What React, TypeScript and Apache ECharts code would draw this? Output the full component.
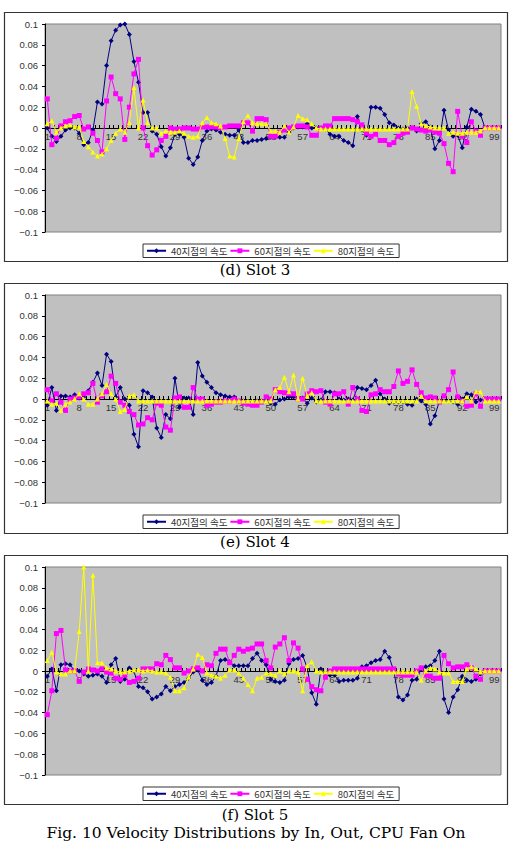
import { useEffect, useRef } from "react";
import * as echarts from "echarts";

// Measurement positions along the slot (1..100)
const categories: string[] = Array.from({ length: 100 }, (_, i) => String(i + 1));

const seriesNames = ["40지점의 속도", "60지점의 속도", "80지점의 속도"];
const captions = ["(d) Slot 3", "(e) Slot 4", "(f) Slot 5"];
const figureTitle = "Fig. 10 Velocity Distributions by In, Out, CPU Fan On";

const yTicks = { min: -0.1, max: 0.1, step: 0.02 };

// Slot 3
const slot3At40 = [
  0, -0.008, -0.013, -0.008, -0.002, 0, 0, -0.005, -0.016, -0.014,
  -0.002, 0.025, 0.023, 0.06, 0.084, 0.094, 0.099, 0.1, 0.09, 0.064,
  0.044, 0.015, 0.015, -0.003, -0.006, -0.018, -0.027, -0.019, -0.006, -0.006,
  -0.009, -0.029, -0.035, -0.028, -0.012, -0.003, -0.001, -0.002, -0.004, -0.006,
  -0.007, -0.007, -0.002, -0.014, -0.014, -0.012, -0.012, -0.011, -0.01, -0.009,
  -0.009, -0.009, -0.009, -0.004, 0, 0.001, 0.001, 0.004, 0, 0,
  0, -0.001, -0.006, -0.008, -0.008, -0.012, -0.014, -0.017, 0.011, -0.002,
  -0.007, 0.02, 0.02, 0.019, 0.013, 0.005, 0.003, 0, -0.001, 0,
  0, -0.003, 0.004, 0.006, 0.001, -0.02, -0.012, 0.017, -0.002, -0.008,
  -0.007, -0.019, 0.001, 0.018, 0.016, 0.013, 0, 0, 0, 0,
];
const slot3At60 = [
  0.028, -0.016, -0.01, 0.002, 0.006, 0.007, 0.011, 0.012, -0.001, 0.001,
  -0.005, -0.012, -0.023, 0.026, 0.049, 0.033, 0.028, -0.011, 0.02, 0.052,
  0.066, 0, -0.017, -0.026, -0.021, -0.012, -0.008, 0, -0.001, -0.001,
  0, 0, -0.001, -0.001, 0.001, 0.001, 0.001, 0.001, 0, 0.001,
  0.002, 0.002, 0.002, 0.005, 0.005, -0.003, 0.009, 0.009, 0.008, -0.008,
  -0.008, -0.004, -0.002, 0, 0.001, 0.002, 0.002, 0.001, -0.007, -0.007,
  0, 0.002, 0.002, 0.009, 0.009, 0.009, 0.009, 0.008, 0.006, 0.003,
  -0.005, -0.008, -0.006, -0.012, -0.012, -0.016, -0.014, -0.008, -0.005, -0.004,
  0, -0.001, -0.002, -0.003, -0.002, -0.004, -0.005, -0.015, -0.034, -0.042,
  0.016, -0.008, -0.014, 0.006, -0.003, -0.007, 0, 0, 0, 0,
];
const slot3At80 = [
  0.004, 0.007, -0.004, 0, 0.002, 0.003, 0.001, 0.001, -0.013, -0.018,
  -0.023, -0.027, -0.025, -0.02, -0.012, -0.005, -0.001, -0.004, 0.005, 0.039,
  0, 0.027, 0.005, 0, 0, -0.005, -0.003, -0.004, -0.004, -0.003,
  -0.005, -0.008, -0.009, -0.008, 0.005, 0.01, 0.005, 0.004, 0.002, -0.01,
  -0.027, -0.028, -0.01, 0.006, 0.012, 0.005, 0.004, 0.004, 0.004, -0.003,
  -0.003, -0.004, 0.002, -0.004, 0.001, 0.012, 0.009, 0.008, 0.004, 0,
  -0.001, -0.001, -0.001, -0.001, -0.001, -0.001, -0.001, -0.001, -0.001, -0.001,
  -0.001, -0.001, -0.001, -0.001, -0.001, -0.001, -0.001, -0.001, -0.001, -0.001,
  0.035, 0.021, 0.004, 0.002, 0.001, 0, 0, 0, -0.005, -0.004,
  -0.005, -0.005, -0.004, -0.004, -0.004, -0.003, 0, 0, 0, 0,
];

// Slot 4
const slot4At40 = [
  -0.006, 0.011, -0.011, 0.003, 0.003, 0.002, 0.004, 0.001, 0.002, 0.008,
  0.016, 0.025, 0.013, 0.043, 0.036, 0.002, 0.011, 0, -0.006, -0.034,
  -0.046, 0.008, 0.006, 0.002, -0.028, -0.037, -0.015, -0.019, 0.02, -0.008,
  0.001, 0.001, -0.015, 0.035, 0.022, 0.016, 0.011, 0.006, 0.004, 0.003,
  0.002, 0.002, -0.002, -0.002, -0.003, -0.003, -0.002, -0.002, -0.002, -0.004,
  -0.005, -0.001, 0, 0.002, 0.002, 0.001, 0.001, -0.004, 0.001, -0.003,
  -0.001, 0.007, 0.007, 0.006, 0, -0.001, 0, -0.001, 0.011, 0.01,
  0.009, 0.013, 0.018, 0.005, 0, -0.004, -0.003, -0.003, -0.003, -0.005,
  -0.006, 0, -0.002, -0.005, -0.024, -0.016, -0.002, -0.002, -0.002, -0.003,
  -0.005, 0, 0.005, 0.004, -0.003, -0.001, 0, 0, 0, 0,
];
const slot4At60 = [
  0.009, -0.002, 0.005, -0.003, -0.011, 0, 0.001, 0.002, 0.005, 0.006,
  0.015, -0.003, 0.003, 0.007, 0.022, 0.015, -0.003, -0.006, -0.012, -0.015,
  -0.025, -0.024, -0.018, -0.02, -0.004, -0.006, -0.027, -0.03, 0.001, 0.002,
  -0.008, -0.008, 0.011, 0, 0, -0.006, -0.005, -0.003, -0.003, -0.002,
  -0.002, 0, -0.002, -0.004, -0.005, -0.006, -0.006, -0.003, 0.002, 0,
  0.009, 0.007, 0.006, 0.005, 0.005, 0, 0, 0.005, 0.008, 0.007,
  0.008, -0.003, -0.005, 0.005, 0.005, 0.007, -0.005, 0.011, 0, -0.011,
  -0.012, 0.004, 0.005, 0.009, 0.007, 0.007, 0.012, 0.027, 0.015, 0.017,
  0.028, 0.014, 0.006, 0.001, 0.002, 0.001, -0.003, 0.003, 0.009, 0.026,
  0.002, -0.002, -0.007, -0.006, 0.005, -0.007, 0, 0, 0, 0,
];
const slot4At80 = [
  -0.002, -0.005, -0.004, -0.011, -0.005, -0.003, 0, 0.005, 0, -0.005,
  -0.005, 0, 0.005, 0.014, 0.005, 0, -0.012, -0.01, 0.003, 0.004,
  -0.002, -0.002, -0.002, -0.002, -0.002, -0.002, -0.002, -0.002, -0.002, -0.002,
  -0.002, -0.002, -0.002, -0.002, -0.002, -0.002, -0.002, -0.002, -0.002, -0.002,
  -0.002, -0.002, -0.002, -0.002, -0.002, -0.002, -0.002, -0.002, -0.002, -0.002,
  0.009, 0.011, 0.021, 0.007, 0.023, 0, 0.02, 0.003, 0.006, -0.002,
  -0.002, -0.002, -0.002, -0.002, -0.002, -0.002, -0.002, -0.002, -0.002, -0.002,
  -0.002, -0.002, -0.002, -0.002, -0.002, -0.002, -0.002, -0.002, -0.002, -0.002,
  -0.002, -0.002, 0.003, -0.002, -0.002, -0.002, -0.002, -0.002, -0.002, -0.002,
  -0.002, -0.002, 0.002, -0.002, 0.007, 0.007, -0.002, -0.002, -0.002, -0.002,
];

// Slot 5
const slot5At40 = [
  -0.005, 0.002, -0.019, 0.006, 0.007, 0.006, 0, 0, -0.003, -0.005,
  -0.004, -0.003, -0.005, -0.011, 0.006, 0.012, -0.01, -0.008, 0.003, 0,
  -0.015, -0.016, -0.02, -0.027, -0.025, -0.022, -0.015, -0.019, -0.015, -0.013,
  -0.011, -0.007, -0.001, 0.001, -0.009, -0.013, -0.011, -0.005, 0.01, 0.011,
  0.009, 0.005, 0.005, 0.005, 0.005, 0.012, 0.017, 0.01, 0.006, -0.008,
  -0.01, -0.011, -0.009, 0.007, 0.011, 0.012, 0.015, 0.003, -0.021, -0.032,
  0.002, -0.004, -0.004, -0.004, -0.01, -0.009, -0.009, -0.009, -0.007, 0.004,
  0.005, 0.008, 0.01, 0.011, 0.019, 0.013, 0, -0.025, -0.028, -0.023,
  -0.009, -0.008, 0.002, 0.004, 0.005, 0.01, 0.019, -0.027, -0.04, -0.025,
  -0.018, -0.005, -0.009, -0.01, -0.008, -0.003, 0, 0, 0, 0,
];
const slot5At60 = [
  -0.042, -0.019, 0.036, 0.039, 0.001, 0, 0, -0.01, -0.001, 0.002,
  0.001, 0, 0.002, -0.001, -0.002, -0.007, -0.008, -0.004, -0.011, -0.01,
  -0.007, 0.002, 0.002, 0.002, 0.007, 0.006, 0.015, 0.011, 0.003, 0.003,
  -0.002, 0, 0.002, 0.003, 0, 0.006, 0.005, 0.017, 0.021, 0.021,
  0.008, 0.015, 0.021, 0.019, 0.021, 0.022, 0.026, 0.026, 0.01, 0.003,
  0.023, 0.026, 0.032, 0.01, 0.027, 0.022, 0.002, -0.008, -0.015, -0.018,
  -0.019, -0.006, 0, 0.002, 0.002, 0.002, 0.002, 0.002, 0.002, 0.002,
  0.002, 0.002, 0.002, 0.002, 0.002, 0.002, 0.002, -0.003, -0.004, -0.004,
  -0.004, 0, 0.003, -0.004, -0.005, -0.007, -0.007, 0.015, 0.007, 0.003,
  0.004, 0.004, 0.006, 0.003, -0.005, -0.008, 0, 0, 0, 0,
];
const slot5At80 = [
  0.01, 0.018, -0.001, -0.003, -0.003, 0, 0, 0.038, 0.1, 0,
  0.092, 0.008, 0.008, 0.003, 0.002, 0, -0.001, -0.001, 0, 0.001,
  0.001, 0, 0.001, 0, -0.001, -0.001, -0.002, -0.006, -0.019, -0.019,
  -0.016, -0.006, 0.002, 0.016, 0.013, -0.002, -0.004, -0.005, -0.007, -0.004,
  0.001, 0.001, -0.002, -0.007, -0.013, -0.019, -0.007, -0.006, -0.002, -0.003,
  -0.004, 0, -0.003, 0, 0, -0.001, -0.019, 0.005, 0.009, 0,
  -0.001, -0.001, -0.001, -0.001, -0.001, -0.001, -0.001, -0.001, -0.001, -0.001,
  -0.001, -0.001, -0.001, -0.001, -0.001, -0.001, -0.001, -0.001, -0.001, -0.001,
  -0.001, -0.001, -0.009, 0, 0.003, 0.002, -0.001, -0.002, -0.002, -0.01,
  -0.01, -0.01, 0.002, 0.004, 0.002, -0.001, 0, 0, 0, 0,
];

const panels = [
  [slot3At40, slot3At60, slot3At80],
  [slot4At40, slot4At60, slot4At80],
  [slot5At40, slot5At60, slot5At80],
];

// Styling for the three probe positions
const seriesColors = ["#000080", "#FF00FF", "#FFFF00"];
const seriesSymbols = ["diamond", "rect", "triangle"];
const seriesSymbolSizes = [5, 5, 5];

// Frame geometry (px)
const panelTops = [12, 283, 555];
const panelHeights = [249, 250, 249];
const captionCenters = [270, 542, 815];
const plotHeight = 208;

const tickText = (v: number) => {
  const s = String(Number(v.toFixed(2)));
  return s.replace("-", "\u2212");
};

export default function App() {
  const ref = useRef<HTMLDivElement>(null);

  useEffect(() => {
    if (!ref.current) return;
    const chart = echarts.init(ref.current, undefined, { renderer: "svg" });

    const axisFont = "Liberation Sans";

    const grid = panelTops.map((t) => ({
      left: 45,
      top: t + 12,
      width: 456,
      height: plotHeight,
      show: true,
      backgroundColor: "#C0C0C0",
      borderColor: "#808080",
      borderWidth: 1,
    }));

    // The category axis sits on the zero line, half-way up the plot
    const xAxis = panelTops.map((_, i) => ({
      type: "category",
      gridIndex: i,
      data: categories,
      boundaryGap: true,
      position: "bottom",
      offset: -plotHeight / 2,
      axisLine: { show: true, onZero: false, lineStyle: { color: "#000", width: 1 } },
      axisTick: { show: true, interval: 0, inside: true, length: 3, lineStyle: { color: "#000" } },
      axisLabel: { interval: 6, fontSize: 9.5, color: "#333", margin: 3, fontFamily: axisFont },
      splitLine: { show: false },
      z: 1,
    }));

    const yAxis = panelTops.map((_, i) => ({
      type: "value",
      gridIndex: i,
      min: yTicks.min,
      max: yTicks.max,
      interval: yTicks.step,
      axisLine: { show: true, lineStyle: { color: "#000", width: 1 } },
      axisTick: { show: true, length: 3, lineStyle: { color: "#000" } },
      axisLabel: { fontSize: 9.5, color: "#333", margin: 7, fontFamily: axisFont, formatter: tickText },
      splitLine: { show: false },
    }));

    const series: any[] = [];
    panels.forEach((group, i) => {
      group.forEach((values, k) => {
        series.push({
          type: "line",
          name: seriesNames[k],
          xAxisIndex: i,
          yAxisIndex: i,
          data: values,
          symbol: seriesSymbols[k],
          symbolSize: seriesSymbolSizes[k],
          showAllSymbol: true,
          color: seriesColors[k],
          lineStyle: { color: seriesColors[k], width: 1 },
          itemStyle: { color: seriesColors[k] },
          z: 2 + k,
        });
      });
    });

    const legend = panelTops.map((t) => ({
      left: 143,
      top: t + 232,
      orient: "horizontal",
      itemWidth: 19,
      itemHeight: 6,
      itemGap: 2,
      padding: [2, 5, 2, 3],
      borderColor: "#333",
      borderWidth: 1,
      backgroundColor: "#fff",
      textStyle: { fontSize: 9.5, color: "#333", fontFamily: "Noto Sans CJK KR" },
      data: seriesNames,
    }));

    const graphic: any[] = [];
    panelTops.forEach((t, i) => {
      graphic.push({
        type: "rect",
        shape: { x: 4.5, y: t + 0.5, width: 503, height: panelHeights[i] },
        style: { fill: "none", stroke: "#333", lineWidth: 1.2 },
        silent: true,
      });
      graphic.push({
        type: "text",
        x: 255,
        y: captionCenters[i],
        style: {
          text: captions[i],
          font: '15px "DejaVu Serif"',
          fill: "#000",
          textAlign: "center",
          textVerticalAlign: "middle",
        },
      });
    });
    graphic.push({
      type: "text",
      x: 256,
      y: 833,
      style: {
        text: figureTitle,
        font: '15.5px "DejaVu Serif"',
        fill: "#000",
        textAlign: "center",
        textVerticalAlign: "middle",
      },
    });

    chart.setOption({
      animation: false,
      backgroundColor: "#fff",
      grid,
      xAxis,
      yAxis,
      series,
      legend,
      graphic,
    } as any);

    return () => chart.dispose();
  }, []);

  return (
    <div
      ref={ref}
      style={{ position: "absolute", left: 0, top: 0, width: 511, height: 843 }}
    />
  );
}
